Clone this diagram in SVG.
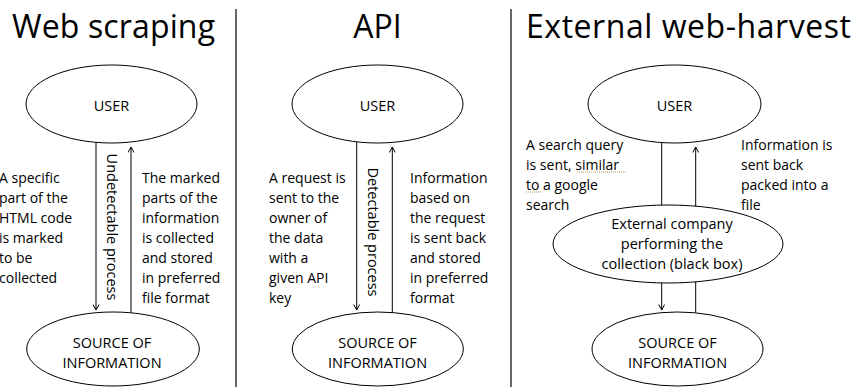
<svg xmlns="http://www.w3.org/2000/svg" width="854" height="387" viewBox="0 0 854 387">
  <style>
    .title { font-family: "Open Sans", "Liberation Sans", sans-serif; font-size: 32px; fill: #000; }
    .body { font-family: "Open Sans", "Liberation Sans", sans-serif; font-size: 14px; fill: #000; }
    .node-label { font-family: "Open Sans", "Liberation Sans", sans-serif; font-size: 14.5px; fill: #000; text-anchor: middle; }
    .vlabel { font-family: "Open Sans", "Liberation Sans", sans-serif; font-size: 14.5px; fill: #000; text-anchor: middle; }
    .node { fill: #fff; stroke: #000; stroke-width: 1; }
    .link { fill: none; stroke: #000; stroke-width: 1; }
    .divider { stroke: #000; stroke-width: 1.2; }
    .squiggle { stroke: #b0905a; stroke-width: 1; stroke-dasharray: 1 1; }
  </style>
  <defs>
    <marker id="arrow" viewBox="0 0 7 7" refX="6" refY="3.5" markerWidth="7" markerHeight="7" markerUnits="userSpaceOnUse" orient="auto">
      <path d="M0.5,0.5 L6,3.5 L0.5,6.5" fill="none" stroke="#000" stroke-width="1"/>
    </marker>
  </defs>

  <rect width="854" height="387" fill="#fff"/>

  <!-- column separators -->
  <g id="dividers">
    <line class="divider" x1="236" y1="9" x2="236" y2="387"/>
    <line class="divider" x1="511" y1="9" x2="511" y2="387"/>
  </g>

  <!-- column headings -->
  <g id="titles">
    <text class="title" x="12" y="38" textLength="203">Web scraping</text>
    <text class="title" x="377.5" y="38" text-anchor="middle">API</text>
    <text class="title" x="526" y="38" textLength="325">External web-harvest</text>
  </g>

  <!-- connectors -->
  <g id="connectors">
    <line class="link" x1="96" y1="142.4" x2="96" y2="310" marker-end="url(#arrow)"/>
    <line class="link" x1="131" y1="312.8" x2="131" y2="147" marker-end="url(#arrow)"/>

    <line class="link" x1="356.7" y1="141.8" x2="356.7" y2="310" marker-end="url(#arrow)"/>
    <line class="link" x1="392.3" y1="312.5" x2="392.3" y2="147" marker-end="url(#arrow)"/>

    <line class="link" x1="661.7" y1="142.6" x2="661.7" y2="205.1"/>
    <line class="link" x1="695.7" y1="206.1" x2="695.7" y2="147" marker-end="url(#arrow)"/>
    <line class="link" x1="661.7" y1="282.9" x2="661.7" y2="310" marker-end="url(#arrow)"/>
    <line class="link" x1="695.7" y1="312.8" x2="695.7" y2="281.9"/>
  </g>

  <!-- Web scraping column -->
  <g id="ws-user">
    <ellipse class="node" cx="111.5" cy="104" rx="85.5" ry="39"/>
    <text class="node-label" x="111.5" y="111">USER</text>
  </g>
  <g id="ws-source">
    <ellipse class="node" cx="113" cy="349" rx="86.3" ry="37"/>
    <text class="node-label" x="112" y="348">SOURCE OF</text>
    <text class="node-label" x="112" y="368">INFORMATION</text>
  </g>
  <g id="ws-labels">
    <text class="body" x="-1" y="183">A specific</text>
    <text class="body" x="-1" y="203">part of the</text>
    <text class="body" x="-1" y="223">HTML code</text>
    <text class="body" x="-1" y="243">is marked</text>
    <text class="body" x="-1" y="263">to be</text>
    <text class="body" x="-1" y="283">collected</text>

    <text class="body" x="142" y="183">The marked</text>
    <text class="body" x="142" y="203">parts of the</text>
    <text class="body" x="142" y="223">information</text>
    <text class="body" x="142" y="243">is collected</text>
    <text class="body" x="142" y="263">and stored</text>
    <text class="body" x="142" y="283">in preferred</text>
    <text class="body" x="142" y="303">file format</text>

    <text class="vlabel" transform="translate(106.8,227) rotate(90)">Undetectable process</text>
  </g>

  <!-- API column -->
  <g id="api-user">
    <ellipse class="node" cx="377.5" cy="104" rx="85.5" ry="39"/>
    <text class="node-label" x="377.5" y="111">USER</text>
  </g>
  <g id="api-source">
    <ellipse class="node" cx="377.8" cy="349" rx="85.5" ry="37"/>
    <text class="node-label" x="377.5" y="348">SOURCE OF</text>
    <text class="node-label" x="377.5" y="368">INFORMATION</text>
  </g>
  <g id="api-labels">
    <text class="body" x="269" y="183">A request is</text>
    <text class="body" x="269" y="203">sent to the</text>
    <text class="body" x="269" y="223">owner of</text>
    <text class="body" x="269" y="243">the data</text>
    <text class="body" x="269" y="263">with a</text>
    <text class="body" x="269" y="283">given API</text>
    <text class="body" x="269" y="303">key</text>

    <text class="body" x="410" y="183">Information</text>
    <text class="body" x="410" y="203">based on</text>
    <text class="body" x="410" y="223">the request</text>
    <text class="body" x="410" y="243">is sent back</text>
    <text class="body" x="410" y="263">and stored</text>
    <text class="body" x="410" y="283">in preferred</text>
    <text class="body" x="410" y="303">format</text>

    <text class="vlabel" transform="translate(367.5,232) rotate(90)">Detectable process</text>
  </g>

  <!-- External web-harvest column -->
  <g id="ext-user">
    <ellipse class="node" cx="674.5" cy="104" rx="86.5" ry="39"/>
    <text class="node-label" x="674.5" y="111">USER</text>
  </g>
  <g id="ext-company">
    <ellipse class="node" cx="668" cy="244" rx="115" ry="39"/>
    <text class="node-label" x="672" y="228.5">External company</text>
    <text class="node-label" x="672" y="248.5">performing the</text>
    <text class="node-label" x="672" y="268.5">collection (black box)</text>
  </g>
  <g id="ext-source">
    <ellipse class="node" cx="677.5" cy="349" rx="85.5" ry="37"/>
    <text class="node-label" x="677.5" y="348">SOURCE OF</text>
    <text class="node-label" x="677.5" y="368">INFORMATION</text>
  </g>
  <g id="ext-labels">
    <text class="body" x="526" y="149.5">A search query</text>
    <text class="body" x="526" y="169.5">is sent, similar</text>
    <text class="body" x="526" y="189.5">to a google</text>
    <text class="body" x="526" y="209.5">search</text>
    <line class="squiggle" x1="577" y1="172" x2="626" y2="172"/>
    <line class="squiggle" x1="526" y1="192" x2="541" y2="192"/>

    <text class="body" x="741" y="149.5">Information is</text>
    <text class="body" x="741" y="169.5">sent back</text>
    <text class="body" x="741" y="189.5">packed into a</text>
    <text class="body" x="741" y="209.5">file</text>
  </g>
</svg>
